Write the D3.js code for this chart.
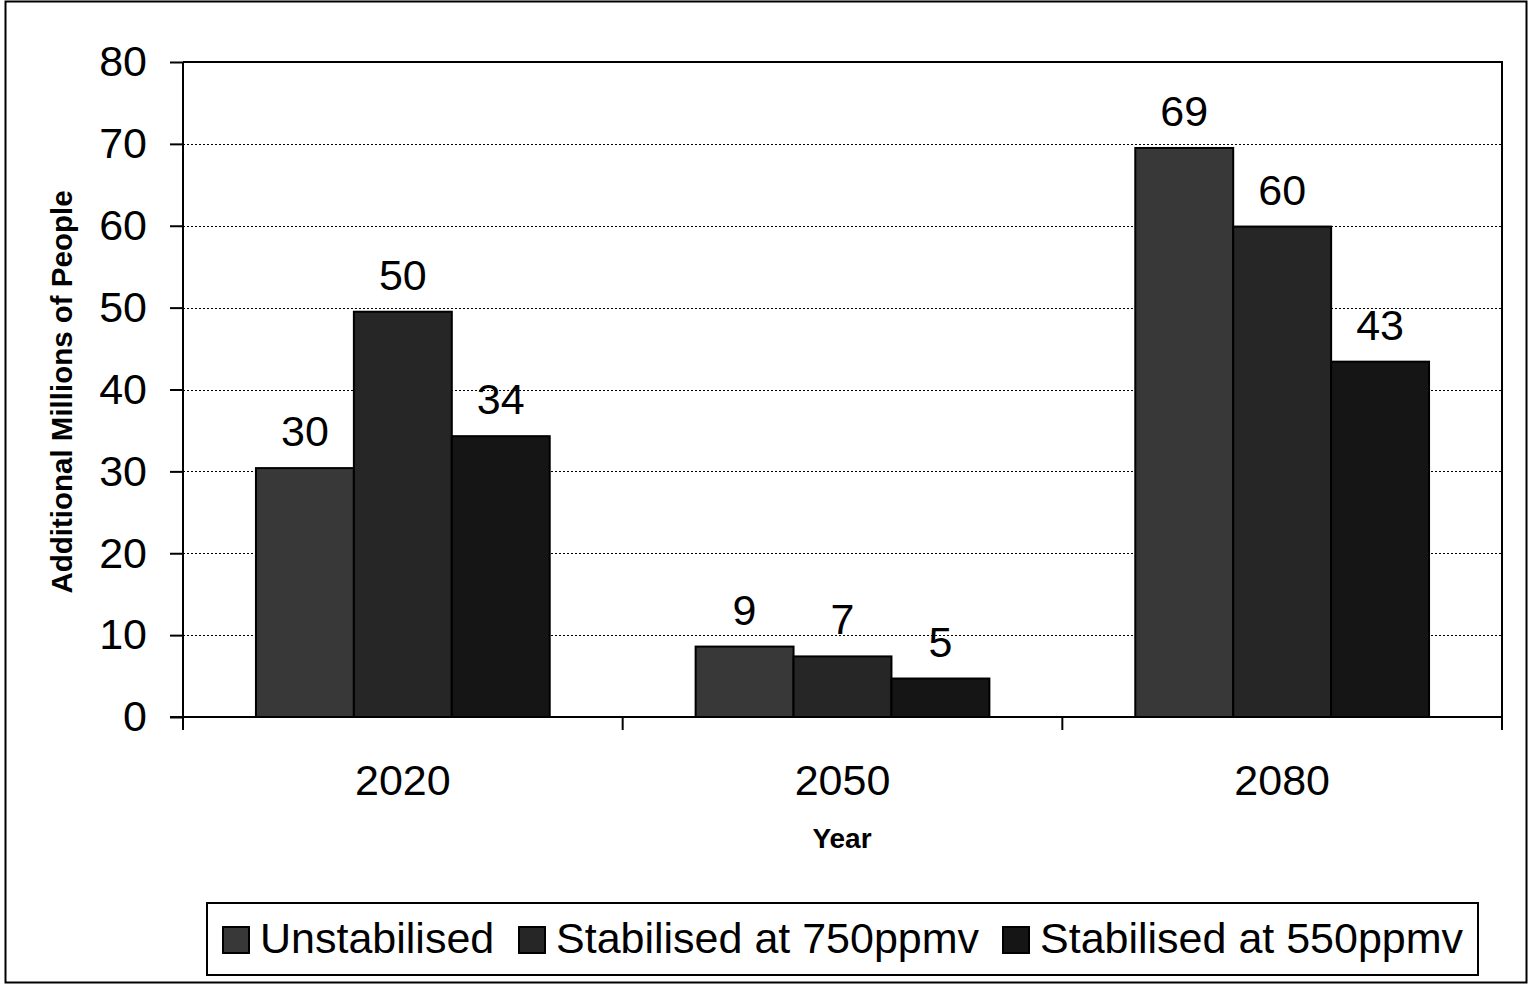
<!DOCTYPE html>
<html><head><meta charset="utf-8">
<script src="https://cdn.jsdelivr.net/npm/d3@7"></script>
<style>body{margin:0;background:#fff}svg{display:block;font-family:"Liberation Sans",Arial,sans-serif}</style>
</head><body><svg id="c" width="1530" height="985"></svg>
<script>
const categories = ["2020", "2050", "2080"];
const seriesNames = ["Unstabilised", "Stabilised at 750ppmv", "Stabilised at 550ppmv"];
const unstabilised = [30.4, 8.6, 69.5];
const stab750 = [49.5, 7.4, 59.9];
const stab550 = [34.3, 4.7, 43.4];
const labelsUnstab = ["30", "9", "69"];
const labels750 = ["50", "7", "60"];
const labels550 = ["34", "5", "43"];
const yTicks = [0, 10, 20, 30, 40, 50, 60, 70, 80];
const colors = ["#383838", "#262626", "#151515"];

const series = [unstabilised, stab750, stab550];
const seriesLabels = [labelsUnstab, labels750, labels550];

const svg = d3.select("#c");
const L = 183, R = 1502, T = 62, B = 717;

svg.append("rect").attr("x", 5.5).attr("y", 1.5).attr("width", 1521).attr("height", 981)
  .attr("fill", "#fff").attr("stroke", "#000").attr("stroke-width", 2);

const x = d3.scaleBand().domain(categories).range([L, R]).paddingInner(0).paddingOuter(0);
const inner = d3.scaleBand().domain(d3.range(series.length)).range([0, x.bandwidth()]).paddingInner(0).paddingOuter(0.745);
const y = d3.scaleLinear().domain([0, 80]).range([B, T]);

// gridlines
svg.append("g").selectAll("line").data(yTicks.filter(d => d > 0 && d < 80)).join("line")
  .attr("x1", L).attr("x2", R).attr("y1", d => Math.round(y(d)) + 0.5).attr("y2", d => Math.round(y(d)) + 0.5)
  .attr("stroke", "#000").attr("stroke-width", 1).attr("stroke-dasharray", "2,2");

// plot border top/right
svg.append("path").attr("d", `M${L},${T}H${R}V${B}`).attr("fill", "none").attr("stroke", "#000").attr("stroke-width", 2);

// bars
series.forEach((vals, si) => {
  const g = svg.append("g");
  g.selectAll("rect").data(vals).join("rect")
    .attr("x", (d, i) => x(categories[i]) + inner(si))
    .attr("y", d => y(d))
    .attr("width", inner.bandwidth())
    .attr("height", d => B - y(d))
    .attr("fill", colors[si]).attr("stroke", "#000").attr("stroke-width", 2);
  g.selectAll("text").data(vals).join("text")
    .attr("x", (d, i) => x(categories[i]) + inner(si) + inner.bandwidth() / 2)
    .attr("y", d => y(d) - 22)
    .attr("text-anchor", "middle").attr("font-size", 43).attr("fill", "#000")
    .text((d, i) => seriesLabels[si][i]);
});

// y axis
const yAxis = d3.axisLeft(y).tickValues(yTicks).tickSize(13).tickPadding(23).tickFormat(d3.format("d"));
const ya = svg.append("g").attr("transform", `translate(${L},0)`).call(yAxis);
ya.select(".domain").attr("stroke-width", 2).attr("d", `M-0,${B}V${T}`);
ya.selectAll(".tick line").attr("stroke-width", 2);
ya.selectAll(".tick text").attr("font-size", 43).attr("font-family", "Liberation Sans, Arial, sans-serif").attr("fill", "#000");

// x axis
const xa = svg.append("g").attr("transform", `translate(0,${B})`);
xa.append("line").attr("x1", L - 13).attr("x2", R).attr("y1", 0).attr("y2", 0).attr("stroke", "#000").attr("stroke-width", 2);
const bounds = categories.map(c => x(c)).concat([R]);
xa.selectAll("line.tk").data(bounds).join("line").attr("class", "tk")
  .attr("x1", d => d).attr("x2", d => d).attr("y1", 0).attr("y2", 13).attr("stroke", "#000").attr("stroke-width", 2);
xa.selectAll("text").data(categories).join("text")
  .attr("x", d => x(d) + x.bandwidth() / 2).attr("y", 78)
  .attr("text-anchor", "middle").attr("font-size", 43).text(d => d);

// axis titles
svg.append("text").attr("x", 842).attr("y", 848).attr("text-anchor", "middle")
  .attr("font-size", 28).attr("font-weight", "bold").text("Year");
svg.append("text").attr("transform", "translate(72,392) rotate(-90)").attr("text-anchor", "middle")
  .attr("font-size", 29.5).attr("font-weight", "bold").text("Additional Millions of People");

// legend
svg.append("rect").attr("x", 207).attr("y", 903).attr("width", 1271).attr("height", 72)
  .attr("fill", "#fff").attr("stroke", "#000").attr("stroke-width", 2);
const legX = [223, 519, 1003];
seriesNames.forEach((n, i) => {
  svg.append("rect").attr("x", legX[i]).attr("y", 927).attr("width", 26).attr("height", 26)
    .attr("fill", colors[i]).attr("stroke", "#000").attr("stroke-width", 2);
  svg.append("text").attr("x", legX[i] + 37).attr("y", 953).attr("font-size", 43).text(n);
});
</script></body></html>
